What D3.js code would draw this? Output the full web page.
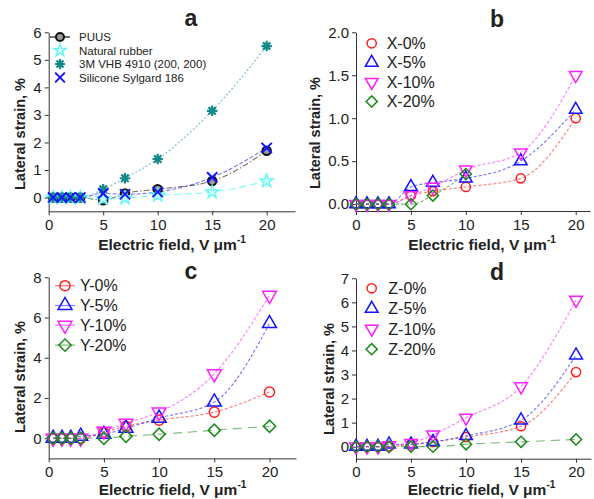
<!DOCTYPE html>
<html>
<head>
<meta charset="utf-8">
<script src="https://cdn.jsdelivr.net/npm/d3@7"></script>
<style>
  body { margin: 0; background: #fff; }
  svg { display: block; }
  text { font-family: "Liberation Sans", Arial, sans-serif; fill: #222; }
</style>
</head>
<body>
<svg id="chart" width="594" height="499"></svg>
<script>
// ---- Panel a: elastomer comparison ----
const fieldA = [0.4, 1.2, 2, 2.9, 5, 7, 10, 15, 20];
const puus = [0, 0, 0, 0, -0.1, 0.15, 0.3, 0.6, 1.7];
const naturalRubber = [0, 0, 0, 0, -0.05, -0.02, 0.08, 0.2, 0.6];
const vhb4910 = [0, 0, 0, 0, 0.3, 0.7, 1.4, 3.15, 5.5];
const sylgard186 = [0, 0, 0, 0, 0.15, 0.12, 0.2, 0.73, 1.8];

// ---- Panel b: X direction ----
const fieldB = [0, 1, 2, 3, 5, 7, 10, 15, 20];
const x0 = [0, 0, 0, 0, 0.1, 0.15, 0.2, 0.3, 1.0];
const x5 = [0, 0, 0, 0, 0.2, 0.25, 0.3, 0.5, 1.1];
const x10 = [0, 0, 0, 0, 0.1, 0.2, 0.4, 0.6, 1.5];
const fieldB20 = [0, 1, 2, 3, 5, 7, 10];
const x20 = [0, 0, 0, 0, 0, 0.1, 0.35];

// ---- Panel c: Y direction ----
const fieldC = [0.4, 1.2, 2, 2.9, 5, 7, 10, 15, 20];
const y0 = [0, 0, 0, 0, 0.3, 0.6, 0.9, 1.3, 2.3];
const y5 = [0, 0, 0, 0.1, 0.2, 0.5, 1.0, 1.8, 5.7];
const y10 = [0, 0, 0, 0, 0.35, 0.75, 1.3, 3.2, 7.1];
const y20 = [0, 0, 0, 0, 0, 0.1, 0.2, 0.4, 0.6];

// ---- Panel d: Z direction ----
const fieldD = [0, 1, 2, 3, 5, 7, 10, 15, 20];
const z0 = [0, 0, 0, 0, 0.1, 0.2, 0.4, 0.85, 3.1];
const z5 = [0, 0, 0, 0.1, 0.1, 0.2, 0.45, 1.1, 3.8];
const z10 = [0, 0, 0, 0.05, 0.15, 0.5, 1.2, 2.5, 6.1];
const z20 = [0, 0, 0, 0, 0, 0, 0.1, 0.2, 0.3];

// Axis ticks
const xTicks = [0, 5, 10, 15, 20];
const yTicksA = [0, 1, 2, 3, 4, 5, 6];
const yTicksB = [0, 0.5, 1.0, 1.5, 2.0];
const yTicksC = [0, 2, 4, 6, 8];
const yTicksD = [0, 1, 2, 3, 4, 5, 6, 7];

const RED = "#ff1f1f", BLUE = "#1414ff", MAGENTA = "#ff1fff", GREEN = "#1a8a1a";
const TEAL = "#138a8a", CYAN = "#5ff7f7";

const svg = d3.select("#chart");

// marker shapes
const sym = d3.symbol();
function drawMarker(g, kind, color, s, cx, cy) {
  const t = `translate(${cx},${cy})`;
  const sw = 1.5;
  switch (kind) {
    case "circle":
      g.append("circle").attr("cx", cx).attr("cy", cy).attr("r", 4.6 * s)
        .attr("fill", "none").attr("stroke", color).attr("stroke-width", sw);
      break;
    case "puus":
      g.append("circle").attr("cx", cx).attr("cy", cy).attr("r", 4.2 * s)
        .attr("fill", "#9a9a9a").attr("stroke", "#111").attr("stroke-width", 2);
      break;
    case "up":
      g.append("path").attr("d", sym.type(d3.symbolTriangle).size(70 * s * s)())
        .attr("transform", t).attr("fill", "none").attr("stroke", color).attr("stroke-width", sw);
      break;
    case "down":
      g.append("path").attr("d", sym.type(d3.symbolTriangle).size(70 * s * s)())
        .attr("transform", t + " rotate(180)").attr("fill", "none").attr("stroke", color).attr("stroke-width", sw);
      break;
    case "diamond":
      g.append("path").attr("d", sym.type(d3.symbolSquare).size(62 * s * s)())
        .attr("transform", t + " rotate(45)").attr("fill", "none").attr("stroke", color).attr("stroke-width", sw);
      break;
    case "times":
      g.append("path").attr("d", sym.type(d3.symbolTimes).size(70 * s * s)())
        .attr("transform", t).attr("fill", "none").attr("stroke", color).attr("stroke-width", 2);
      break;
    case "asterisk": {
      const r = 5.2 * s;
      const p = d3.path();
      for (let k = 0; k < 4; k++) {
        const a = k * Math.PI / 4;
        p.moveTo(-r * Math.cos(a), -r * Math.sin(a));
        p.lineTo(r * Math.cos(a), r * Math.sin(a));
      }
      g.append("path").attr("d", p.toString()).attr("transform", t)
        .attr("fill", "none").attr("stroke", color).attr("stroke-width", 2.2);
      break;
    }
    case "star":
      g.append("path").attr("d", sym.type(d3.symbolStar).size(55 * s * s)())
        .attr("transform", t).attr("fill", "#c8ffff").attr("stroke", color).attr("stroke-width", 1.3);
      break;
  }
}

function drawPanel(cfg) {
  const x = d3.scaleLinear().domain([0, cfg.xMax]).range([cfg.left, cfg.right]);
  const y = d3.scaleLinear().domain([cfg.yMin, cfg.yMax]).range([cfg.bottom, cfg.top]);
  const g = svg.append("g");

  // axes
  const ax = g.append("g").attr("transform", `translate(0,${cfg.bottom})`)
    .call(d3.axisBottom(x).tickValues(xTicks).tickSize(4).tickSizeOuter(0).tickPadding(4).tickFormat(d3.format("d")));
  const ay = g.append("g").attr("transform", `translate(${cfg.left},0)`)
    .call(d3.axisLeft(y).tickValues(cfg.yTicks).tickSize(4).tickSizeOuter(0).tickPadding(3).tickFormat(cfg.yFormat));
  [ax, ay].forEach(a => {
    a.select(".domain").attr("stroke", "#333");
    a.selectAll(".tick line").attr("stroke", "#333");
    a.selectAll(".tick text").style("font-size", "15px").attr("fill", "#222")
      .style("font-family", '"Liberation Sans", Arial, sans-serif');
  });

  // fitted curves
  const line = d3.line().x(d => x(d[0])).y(d => y(d[1])).curve(d3.curveMonotoneX);
  cfg.series.forEach(s => {
    const pts = s.xs.map((v, i) => [v, s.ys[i]]);
    g.append("path").attr("d", line(pts)).attr("fill", "none")
      .attr("stroke", s.lineColor || s.color).attr("stroke-width", 1.1)
      .attr("stroke-opacity", s.lineOpacity || 0.6)
      .attr("stroke-dasharray", s.dash);
  });
  // markers
  cfg.series.forEach(s => {
    const mg = g.append("g");
    s.xs.forEach((v, i) => drawMarker(mg, s.shape, s.color, cfg.markerScale, x(v), y(s.ys[i])));
  });

  // legend
  cfg.series.forEach((s, i) => {
    const ly = cfg.legend.y + i * cfg.legend.dy;
    if (s.legendLine) {
      g.append("line").attr("x1", cfg.legend.x - 10).attr("x2", cfg.legend.x + 10)
        .attr("y1", ly).attr("y2", ly).attr("stroke", s.legendLine).attr("stroke-width", 1.3);
    }
    drawMarker(g, s.shape, s.color, cfg.legend.scale, cfg.legend.x, ly);
    g.append("text").attr("x", cfg.legend.tx).attr("y", ly).attr("dy", "0.36em")
      .style("font-size", cfg.legend.font + "px").text(s.name);
  });

  // panel letter
  g.append("text").attr("x", cfg.letter[0]).attr("y", cfg.letter[1]).attr("text-anchor", "middle")
    .style("font-size", "23px").style("font-weight", "bold").text(cfg.label);

  // axis titles
  const xt = g.append("text").attr("x", cfg.xTitle[0]).attr("y", cfg.xTitle[1]).attr("text-anchor", "middle")
    .style("font-size", "15.5px").style("font-weight", "bold");
  xt.append("tspan").text("Electric field, V \u03bcm");
  xt.append("tspan").attr("dy", -7).style("font-size", "10px").text("-1");

  g.append("text").attr("transform", `translate(${cfg.yTitle[0]},${cfg.yTitle[1]}) rotate(-90)`)
    .attr("text-anchor", "middle").style("font-size", "14.5px").style("font-weight", "bold")
    .text("Lateral strain, %");
}

drawPanel({
  label: "a", letter: [191, 25.5],
  left: 48.7, right: 295, xMax: 22.6, top: 32.3, bottom: 211.3, yMin: -0.5, yMax: 6,
  yTicks: yTicksA, yFormat: d3.format("d"), markerScale: 1,
  xTitle: [172, 250], yTitle: [24.5, 134],
  legend: { x: 60, tx: 79, y: 37, dy: 13.5, font: 11.5, scale: 0.95 },
  series: [
    { name: "PUUS", xs: fieldA, ys: puus, shape: "puus", color: "#111", lineColor: "#444", lineOpacity: 0.75, dash: "6,2,1.5,2", legendLine: "#222" },
    { name: "Natural rubber", xs: fieldA, ys: naturalRubber, shape: "star", color: CYAN, lineOpacity: 0.8, dash: "7,4" },
    { name: "3M VHB 4910 (200, 200)", xs: fieldA, ys: vhb4910, shape: "asterisk", color: TEAL, lineOpacity: 0.55, dash: "2,2" },
    { name: "Silicone Sylgard 186", xs: fieldA, ys: sylgard186, shape: "times", color: BLUE, lineOpacity: 0.6, dash: "4,2" }
  ]
});

drawPanel({
  label: "b", letter: [497, 26.5],
  left: 356, right: 590, xMax: 21.3, top: 32.3, bottom: 211, yMin: -0.08, yMax: 2,
  yTicks: yTicksB, yFormat: d3.format(".1f"), markerScale: 1,
  xTitle: [482, 250], yTitle: [320, 133],
  legend: { x: 371.7, tx: 386.7, y: 43.3, dy: 19.4, font: 16, scale: 1 },
  series: [
    { name: "X-0%", xs: fieldB, ys: x0, shape: "circle", color: RED, dash: "3,2" },
    { name: "X-5%", xs: fieldB, ys: x5, shape: "up", color: BLUE, dash: "3,2" },
    { name: "X-10%", xs: fieldB, ys: x10, shape: "down", color: MAGENTA, dash: "3,2" },
    { name: "X-20%", xs: fieldB20, ys: x20, shape: "diamond", color: GREEN, dash: "3,2" }
  ]
});

drawPanel({
  label: "c", letter: [191, 278.5],
  left: 48.7, right: 296, xMax: 22.4, top: 277.3, bottom: 458.4, yMin: -1, yMax: 8,
  yTicks: yTicksC, yFormat: d3.format("d"), markerScale: 1.1,
  xTitle: [172.5, 495], yTitle: [24.5, 377],
  legend: { x: 65, tx: 80, y: 285.7, dy: 19.8, font: 16, scale: 1.1 },
  series: [
    { name: "Y-0%", xs: fieldC, ys: y0, shape: "circle", color: RED, dash: "3,2", legendLine: "#ff8080" },
    { name: "Y-5%", xs: fieldC, ys: y5, shape: "up", color: BLUE, dash: "3,2", legendLine: "#8080ff" },
    { name: "Y-10%", xs: fieldC, ys: y10, shape: "down", color: MAGENTA, dash: "3,2", legendLine: "#ff80ff" },
    { name: "Y-20%", xs: fieldC, ys: y20, shape: "diamond", color: GREEN, dash: "9,6", legendLine: "#80c080" }
  ]
});

drawPanel({
  label: "d", letter: [497, 280],
  left: 356, right: 591, xMax: 21.36, top: 278.3, bottom: 458.7, yMin: -0.5, yMax: 7,
  yTicks: yTicksD, yFormat: d3.format("d"), markerScale: 1,
  xTitle: [481.5, 495], yTitle: [334, 379],
  legend: { x: 371.7, tx: 388.3, y: 288.3, dy: 20.3, font: 16, scale: 1 },
  series: [
    { name: "Z-0%", xs: fieldD, ys: z0, shape: "circle", color: RED, dash: "3,2" },
    { name: "Z-5%", xs: fieldD, ys: z5, shape: "up", color: BLUE, dash: "3,2" },
    { name: "Z-10%", xs: fieldD, ys: z10, shape: "down", color: MAGENTA, dash: "3,2" },
    { name: "Z-20%", xs: fieldD, ys: z20, shape: "diamond", color: GREEN, dash: "9,6" }
  ]
});
</script>
</body>
</html>
